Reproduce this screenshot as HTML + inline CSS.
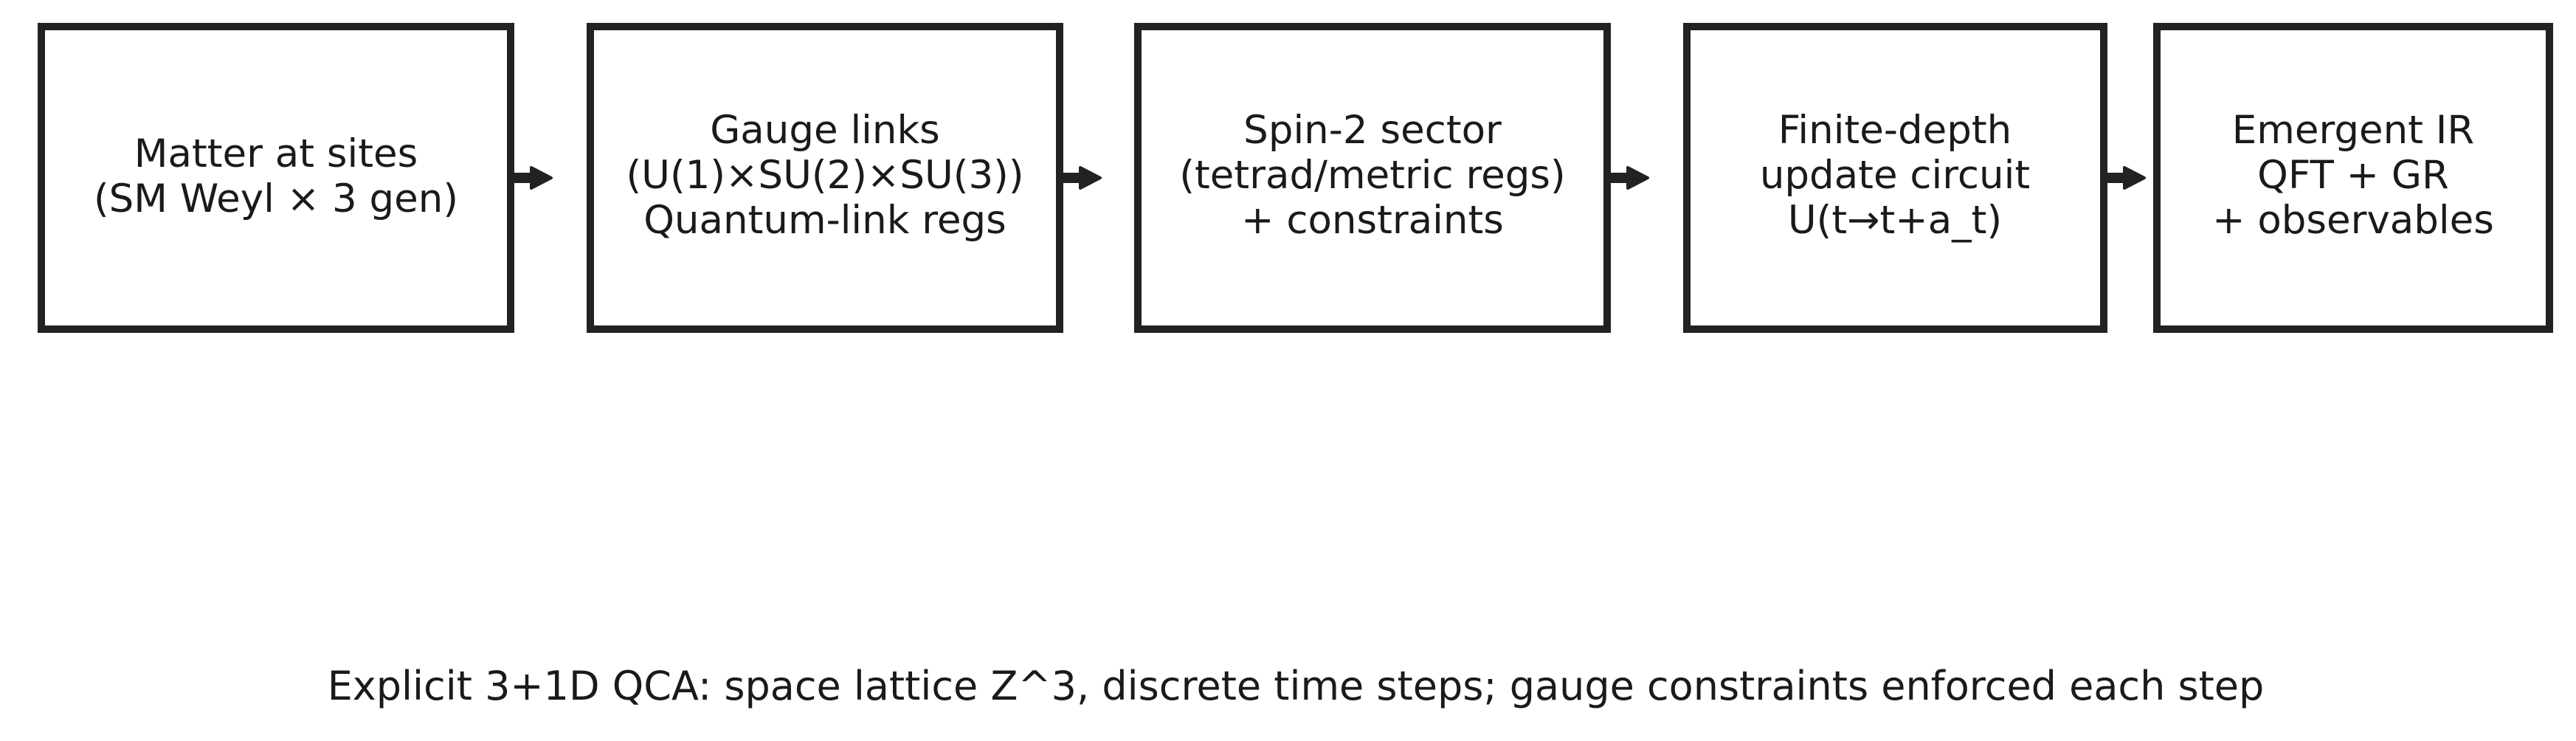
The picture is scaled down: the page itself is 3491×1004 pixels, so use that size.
<!DOCTYPE html>
<html><head><meta charset="utf-8"><style>
html,body{margin:0;padding:0;background:#fff;}
svg{display:block;}
text{font-family:"DejaVu Sans","Liberation Sans",sans-serif;font-size:53px;fill:#1a1a1a;text-anchor:middle;}
</style></head><body>
<svg width="3491" height="1004" viewBox="0 0 3491 1004" xmlns="http://www.w3.org/2000/svg">
<g fill="none" stroke="#222" stroke-width="10">
<rect x="56" y="36" width="636" height="410"/>
<rect x="800" y="36" width="636" height="410"/>
<rect x="1542" y="36" width="636" height="410"/>
<rect x="2286" y="36" width="565" height="410"/>
<rect x="2923" y="36" width="532" height="410"/>
</g>
<g fill="#222" stroke="#222" stroke-width="4" stroke-linejoin="round">
<rect x="697" y="236" width="26" height="10"/><polygon points="720,227 747,241 720,255"/>
<rect x="1441" y="236" width="26" height="10"/><polygon points="1464,227 1491,241 1464,255"/>
<rect x="2183" y="236" width="26" height="10"/><polygon points="2206,227 2233,241 2206,255"/>
<rect x="2856" y="236" width="26" height="10"/><polygon points="2879,227 2906,241 2879,255"/>
</g>
<text x="374" y="226">Matter at sites</text>
<text x="374" y="287">(SM Weyl × 3 gen)</text>
<text x="1118" y="194">Gauge links</text>
<text x="1118" y="255">(U(1)×SU(2)×SU(3))</text>
<text x="1118" y="316">Quantum-link regs</text>
<text x="1860" y="194">Spin-2 sector</text>
<text x="1860" y="255">(tetrad/metric regs)</text>
<text x="1860" y="316">+ constraints</text>
<text x="2568" y="194">Finite-depth</text>
<text x="2568" y="255">update circuit</text>
<text x="2568" y="316">U(t→t+a_t)</text>
<text x="3189" y="194">Emergent IR</text>
<text x="3189" y="255">QFT + GR</text>
<text x="3189" y="316">+ observables</text>
<text x="1756" y="948" style="font-size:54px">Explicit 3+1D QCA: space lattice Z^3, discrete time steps; gauge constraints enforced each step</text>
</svg>
</body></html>
